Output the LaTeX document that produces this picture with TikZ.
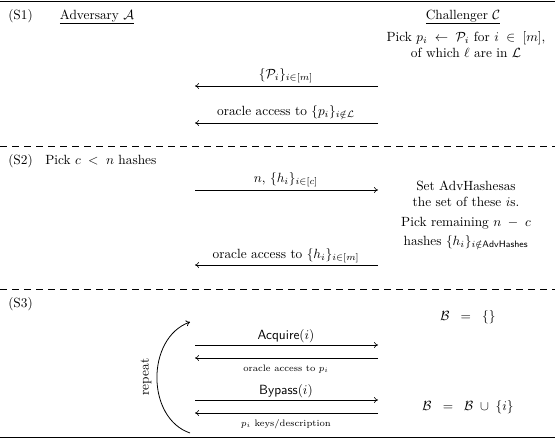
\documentclass[tikz,border=0pt]{standalone}
\usepackage{amsmath,amssymb}
\usetikzlibrary{arrows.meta}
\begin{document}
\begin{tikzpicture}[x=0.75pt,y=-0.75pt,
    msg/.style={line width=0.45pt,-{To[length=3pt,width=4.5pt]}},
    sepline/.style={line width=0.5pt,dash pattern=on 5pt off 4pt},
    rule/.style={line width=1.4pt},
    txt/.style={inner sep=0pt,anchor=base},
    lbl/.style={inner sep=0pt,anchor=base},
    col/.style={inner sep=0pt,align=center}]
\useasboundingbox (0,0) rectangle (555,439);
% frame rules and phase separators
\coordinate (tl) at (0,1.5); \coordinate (tr) at (555,1.5);
\coordinate (bl) at (0,437.5); \coordinate (br) at (555,437.5);
\coordinate (d1l) at (0,146); \coordinate (d1r) at (555,146);
\coordinate (d2l) at (0,289); \coordinate (d2r) at (555,289);
\draw[rule] (tl) -- (tr);
\draw[rule] (bl) -- (br);
\draw[sepline] (d1l) -- (d1r);
\draw[sepline] (d2l) -- (d2r);

% ---- phase S1
\node[txt,anchor=base west] (s1) at (8,19) {(S1)};
\node[txt] (adv) at (97,19) {\underline{Adversary $\mathcal{A}$}};
\node[txt] (chal) at (463,19) {\underline{Challenger $\mathcal{C}$}};
\node[col] (pick) at (466,45) {Pick $p_i\;\leftarrow\;\mathcal{P}_i$ for $i\;\in\;[m]$,\\ of which $\ell$ are in $\mathcal{L}$};

\coordinate (m1l) at (195,86); \coordinate (m1r) at (378,86);
\draw[msg] (m1r) -- (m1l);
\node[lbl] (m1t) at (286,78) {$\{\mathcal{P}_i\}_{i\in[m]}$};
\coordinate (m2l) at (195,123); \coordinate (m2r) at (378,123);
\draw[msg] (m2r) -- (m2l);
\node[lbl] (m2t) at (286,115) {oracle access to $\{p_i\}_{i\notin\mathcal{L}}$};

% ---- phase S2
\node[txt,anchor=base west] (s2) at (8,164) {(S2)};
\node[txt,anchor=base west] (pickc) at (45,164) {Pick $c\;<\;n$ hashes};
\coordinate (m3l) at (195,190); \coordinate (m3r) at (378,190);
\draw[msg] (m3l) -- (m3r);
\node[lbl] (m3t) at (286,182) {$n$, $\{h_i\}_{i\in[c]}$};
\node[col] (sethash) at (466,194) {Set AdvHashesas\\ the set of these $i$s.};
\node[col] (remain) at (466,233) {Pick remaining $n\;-\;c$\\[2pt] hashes $\{h_i\}_{i\notin\mathsf{AdvHashes}}$};
\coordinate (m4l) at (195,265); \coordinate (m4r) at (378,265);
\draw[msg] (m4r) -- (m4l);
\node[lbl] (m4t) at (286,258) {oracle access to $\{h_i\}_{i\in[m]}$};

% ---- phase S3
\node[txt,anchor=base west] (s3) at (8,307) {(S3)};
\node[txt] (binit) at (468,320) {$\mathcal{B}\;\;=\;\;\{\}$};
\coordinate (m5l) at (195,345); \coordinate (m5r) at (378,345);
\draw[msg] (m5l) -- (m5r);
\node[lbl] (m5t) at (286,339) {\textsf{Acquire}$(i)$};
\coordinate (m6l) at (195,358); \coordinate (m6r) at (378,358);
\draw[msg] (m6r) -- (m6l);
\node[lbl] (m6t) at (286,371) {\scriptsize oracle access to $p_i$};
\coordinate (m7l) at (195,400); \coordinate (m7r) at (378,400);
\draw[msg] (m7l) -- (m7r);
\node[lbl] (m7t) at (286,394) {\textsf{Bypass}$(i)$};
\coordinate (m8l) at (195,413); \coordinate (m8r) at (378,413);
\draw[msg] (m8r) -- (m8l);
\node[lbl] (m8t) at (286,426) {\scriptsize $p_i$ keys/description};
\node[txt] (bupd) at (468,410) {$\mathcal{B}\;\;=\;\;\mathcal{B}\;\cup\;\{i\}$};

% loop marker
\coordinate (rbot) at (190,433);
\coordinate (rtop) at (190,322);
\draw[line width=0.6pt,-{To[length=3pt,width=4.5pt]}] (rbot) .. controls (146,418) and (146,338) .. (rtop);
\node[rotate=90,inner sep=0pt] (rep) at (146,377) {repeat};
\end{tikzpicture}
\end{document}
